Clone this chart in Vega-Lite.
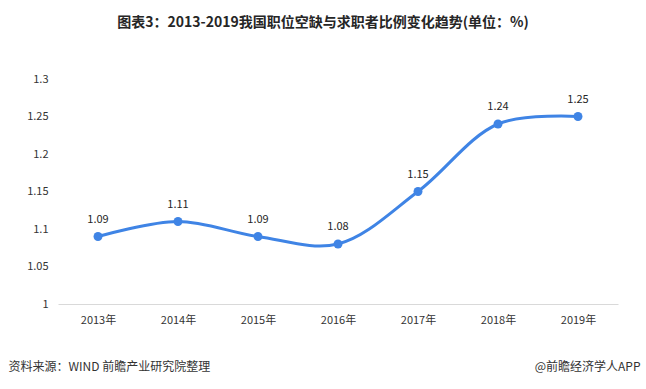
{
  "$schema": "https://vega.github.io/schema/vega-lite/v6.json",
  "width": 560,
  "height": 225,
  "autosize": "none",
  "padding": {"left": 58, "top": 79, "right": 28, "bottom": 85},
  "background": "white",
  "config": {
    "view": {"stroke": null},
    "font": "Noto Sans CJK SC"
  },
  "title": {
    "text": "图表3：2013-2019我国职位空缺与求职者比例变化趋势(单位：%)",
    "font": "Noto Sans CJK SC",
    "fontSize": 14,
    "fontWeight": "bold",
    "color": "#262626",
    "anchor": "middle",
    "frame": "group",
    "dx": -15,
    "offset": 43
  },
  "data": {
    "values": [
      {"year": "2013年", "value": 1.09},
      {"year": "2014年", "value": 1.11},
      {"year": "2015年", "value": 1.09},
      {"year": "2016年", "value": 1.08},
      {"year": "2017年", "value": 1.15},
      {"year": "2018年", "value": 1.24},
      {"year": "2019年", "value": 1.25}
    ]
  },
  "encoding": {
    "x": {
      "field": "year",
      "type": "ordinal",
      "sort": null,
      "scale": {"paddingInner": 0, "paddingOuter": 0, "align": 0.5},
      "axis": {
        "title": "资料来源：WIND 前瞻产业研究院整理",
        "titleFont": "Noto Sans CJK SC",
        "titleFontSize": 12,
        "titleFontWeight": "normal",
        "titleColor": "#333333",
        "titleAnchor": "start",
        "titleAlign": "left",
        "titleBaseline": "middle",
        "titleX": -50,
        "titleY": 62,
        "labelAngle": 0,
        "labelFontSize": 11,
        "labelColor": "#333333",
        "labelPadding": 10,
        "ticks": false,
        "domainColor": "#d9d9d9",
        "domainWidth": 1,
        "grid": false
      }
    },
    "y": {
      "field": "value",
      "type": "quantitative",
      "scale": {"domain": [1, 1.3], "zero": false, "nice": false},
      "axis": {
        "values": [1, 1.05, 1.1, 1.15, 1.2, 1.25, 1.3],
        "format": ".2~f",
        "title": "@前瞻经济学人APP",
        "titleFont": "Noto Sans CJK SC",
        "titleFontSize": 12,
        "titleFontWeight": "normal",
        "titleColor": "#333333",
        "titleAngle": 0,
        "titleAlign": "right",
        "titleBaseline": "middle",
        "titleX": 582,
        "titleY": 287,
        "labelFontSize": 11,
        "labelColor": "#333333",
        "labelPadding": 10,
        "ticks": false,
        "domain": false,
        "grid": false
      }
    }
  },
  "layer": [
    {
      "mark": {"type": "line", "interpolate": "catmull-rom", "color": "#3f84e5", "strokeWidth": 3}
    },
    {
      "mark": {"type": "point", "filled": true, "opacity": 1, "size": 80, "color": "#3f84e5"}
    },
    {
      "mark": {"type": "text", "dy": -17, "fontSize": 11, "color": "#262626"},
      "encoding": {"text": {"field": "value", "type": "quantitative", "format": ".2f"}}
    }
  ]
}
